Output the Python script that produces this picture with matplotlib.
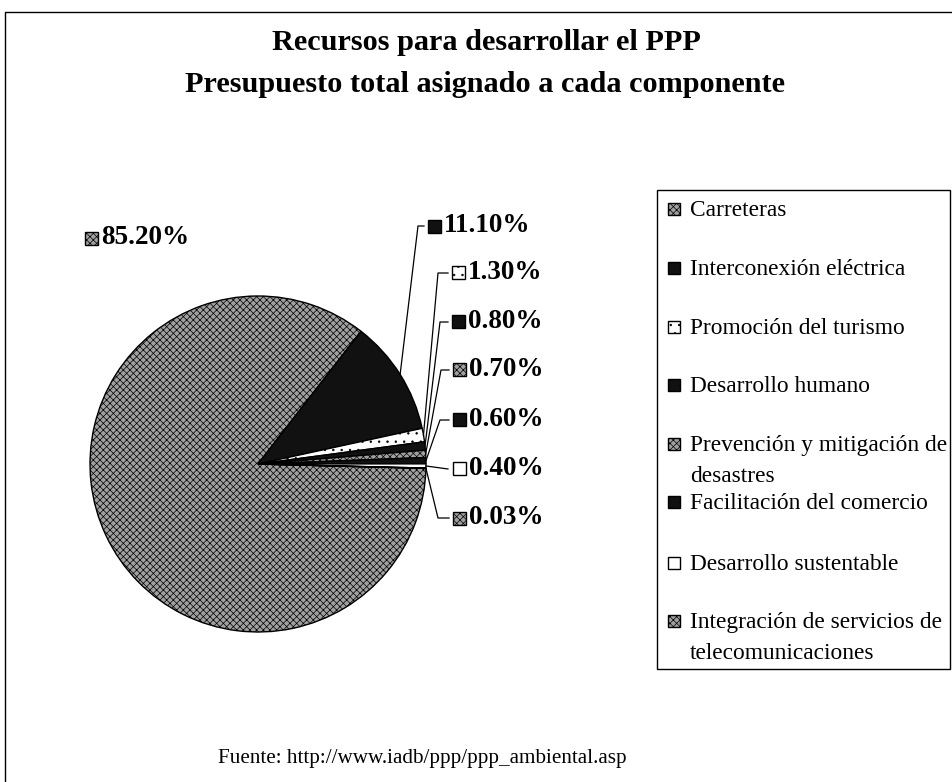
import matplotlib
matplotlib.use("Agg")
import matplotlib.pyplot as plt
from matplotlib.patches import Rectangle
import numpy as np

plt.rcParams["font.family"] = ["Liberation Serif", "DejaVu Serif"]
plt.rcParams["hatch.linewidth"] = 0.5

componentes = ["Carreteras", "Interconexión eléctrica", "Promoción del turismo",
               "Desarrollo humano", "Prevención y mitigación de\ndesastres",
               "Facilitación del comercio", "Desarrollo sustentable",
               "Integración de servicios de\ntelecomunicaciones"]
porcentajes = [85.2, 11.1, 1.3, 0.8, 0.7, 0.6, 0.4, 0.03]
etiquetas = ["85.20%", "11.10%", "1.30%", "0.80%", "0.70%", "0.60%", "0.40%", "0.03%"]
colores = ["#a0a0a0", "#111111", "#ffffff", "#111111", "#a0a0a0", "#111111", "#ffffff", "#a0a0a0"]
tramas = ["xxxxx", None, "..", None, "xxxxx", None, None, "xxxxx"]

# posiciones de las etiquetas en pixeles (x, y desde arriba) y codo de la guia
lab_pos = [(85, 238), (428, 226), (452, 273), (452, 322), (453, 370), (453, 420), (453, 469), (453, 518)]
codos = [None, 418, 438, 440, 441, 440, None, 438]

W, H = 953, 782
fig = plt.figure(figsize=(W / 100, H / 100), dpi=100)
ax = fig.add_axes([0, 0, 1, 1])

cx, cy, R = 258, H - 464, 168
wedges, _ = ax.pie(porcentajes, colors=colores, startangle=-1.5, counterclock=False,
                   center=(cx, cy), radius=R,
                   wedgeprops=dict(edgecolor="black", linewidth=1.0))
for w, t in zip(wedges, tramas):
    if t:
        w.set_hatch(t)
ax.set_xlim(0, W)
ax.set_ylim(0, H)
ax.set_aspect("equal")
ax.axis("off")


def marcador(x, y, i, size=12):
    r = Rectangle((x, y - size / 2), size, size, facecolor=colores[i], edgecolor="black",
                  linewidth=1.0, hatch=tramas[i])
    ax.add_patch(r)


# etiquetas de porcentaje con guias
for i, (w, txt) in enumerate(zip(wedges, etiquetas)):
    lx, ly = lab_pos[i]
    ly = H - ly
    marcador(lx, ly, i, 13)
    ax.text(lx + 16, ly, txt, fontsize=19.5, fontweight="bold", va="center", ha="left")
    if i == 0:
        continue
    ang = np.deg2rad((w.theta1 + w.theta2) / 2)
    px, py = cx + R * np.cos(ang), cy + R * np.sin(ang)
    if codos[i] is None:
        ax.plot([px, lx - 5], [py, ly], color="black", lw=0.9)
    else:
        ax.plot([px, codos[i], lx - 4], [py, ly, ly], color="black", lw=0.9)

# leyenda
ax.add_patch(Rectangle((657, H - 669), 293, 479, facecolor="white", edgecolor="black", linewidth=1.0))
leg_y = [209, 268, 327, 385, 444, 502, 563, 621]
for i, (nombre, yy) in enumerate(zip(componentes, leg_y)):
    marcador(668, H - yy, i, 12)
    ax.text(690, H - yy + 9, nombre, fontsize=16.8, va="top", ha="left", linespacing=1.6)

# titulo y fuente
ax.text(486, H - 43, "Recursos para desarrollar el PPP", fontsize=21.8, fontweight="bold",
        ha="center", va="center")
ax.text(485, H - 84, "Presupuesto total asignado a cada componente", fontsize=21.8,
        fontweight="bold", ha="center", va="center")
ax.text(422, H - 758, "Fuente: http://www.iadb/ppp/ppp_ambiental.asp", fontsize=15.2,
        ha="center", va="center")

# marco exterior
ax.plot([5, 5, W + 5], [0, H - 12, H - 12], color="black", lw=1.0)

fig.savefig("out.png", dpi=100)
